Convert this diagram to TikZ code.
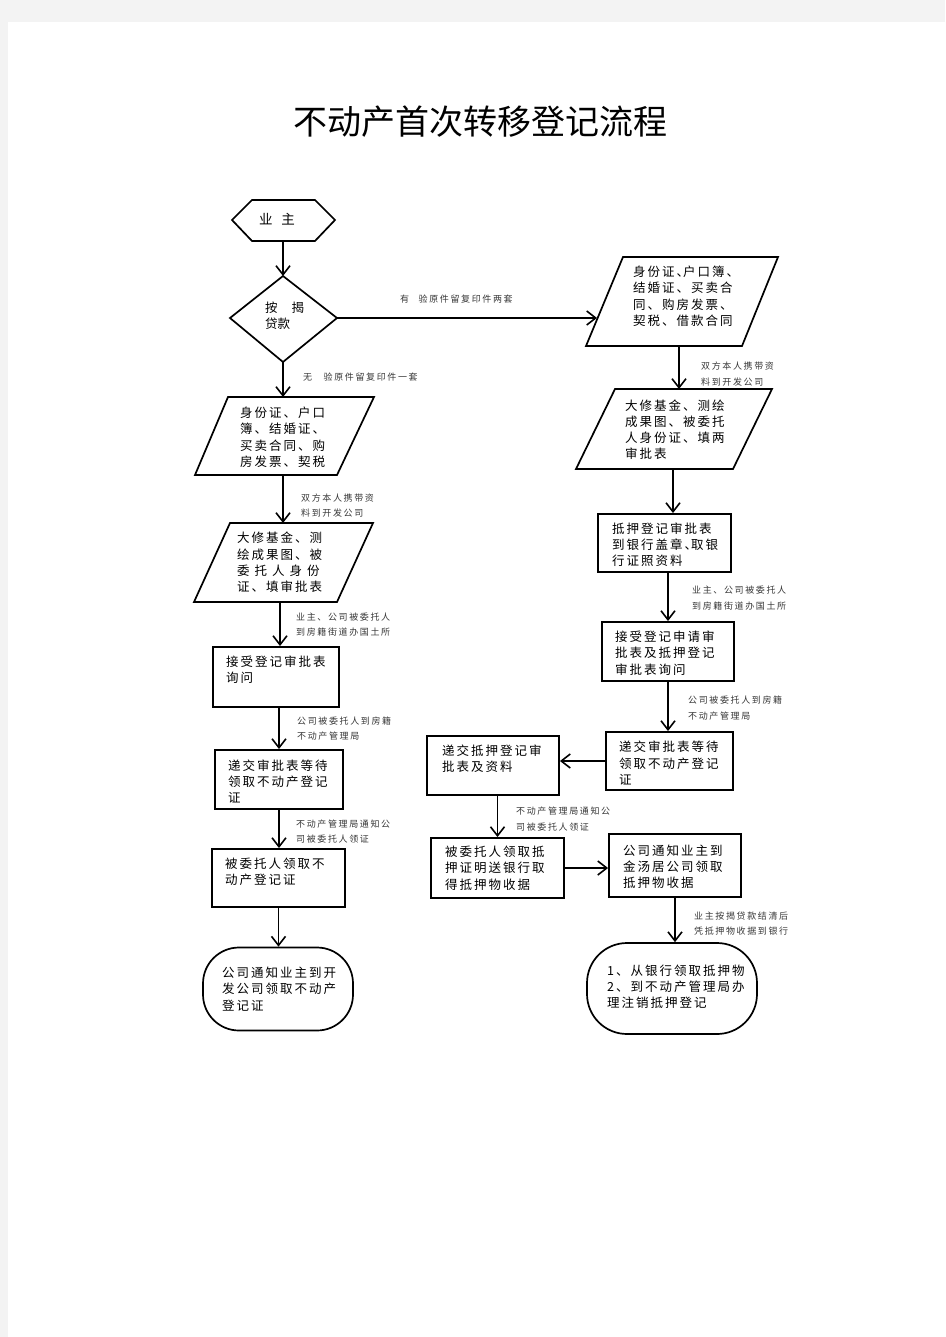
\documentclass[tikz,border=0pt]{standalone}
\usepackage{fontspec}
\setmainfont{Noto Sans CJK SC}
\newfontfamily\bfam[LetterSpace=16]{Noto Sans CJK SC}
\newfontfamily\lfam[LetterSpace=18]{Noto Sans CJK SC}
\usetikzlibrary{arrows.meta}
\definecolor{pagebg}{HTML}{F3F3F3}
\begin{document}
\begin{tikzpicture}[x=1pt,y=-1pt,
  shp/.style={draw,line width=1.7pt,line join=miter},
  box/.style={draw,line width=1.9pt,inner sep=0pt,rectangle},
  arr/.style={line width=1.6pt,-{Straight Barb[length=9pt,width=14pt]}},
  txt/.style={anchor=north west,inner sep=0pt,align=left,font=\bfam\fontsize{12.5}{16.2}\selectfont},
  lbl/.style={anchor=north west,inner sep=0pt,align=left,font=\lfam\fontsize{9}{15.3}\selectfont,text=black!78},
]
\fill[pagebg] (0,0) rectangle (945,1337);
\fill[white] (8,22) rectangle (945,1337);
\useasboundingbox (0,0) rectangle (945,1337);

\node[inner sep=0pt,font=\fontsize{34}{40}\selectfont] (title) at (480,122) {不动产首次转移登记流程};

% ---------- hexagon ----------
\draw[shp] (232,220) -- (252,200) -- (315,200) -- (335,220) -- (315,241) -- (252,241) -- cycle;
\coordinate (Hb) at (283,241);
\node[inner sep=0pt,font=\fontsize{13.5}{16}\selectfont] (Ht) at (277,219) {业\hspace{9pt}主};

% ---------- diamond ----------
\draw[shp] (283,276) -- (337,318) -- (283,362) -- (230,318) -- cycle;
\coordinate (Dt) at (283,276);
\coordinate (Dr) at (337,318);
\coordinate (Db) at (283,362);
\node[anchor=north west,inner sep=0pt,align=left,font=\fontsize{12.5}{16}\selectfont] (Dtx) at (265,302) {按\hspace{14pt}揭\\贷款};

% ---------- left parallelograms ----------
\draw[shp] (228,397) -- (374,397) -- (337,475) -- (195,475) -- cycle;
\coordinate (L1t) at (283,397);
\coordinate (L1b) at (283,475);
\node[txt] (L1x) at (240,407) {身份证、户口\\簿、结婚证、\\买卖合同、购\\房发票、契税};

\draw[shp] (230,523) -- (373,523) -- (337,602) -- (194,602) -- cycle;
\coordinate (L2t) at (283,523);
\coordinate (L2b) at (280,602);
\node[txt] (L2x) at (237,532) {大修基金、测\\绘成果图、被\\委\hspace{5pt}托\hspace{5pt}人\hspace{5pt}身\hspace{5pt}份\\证、填审批表};

% ---------- left boxes ----------
\node[box,minimum width=126pt,minimum height=60pt] (L3) at (276,677) {};
\node[txt] (L3x) at (226,656) {接受登记审批表\\询问};
\node[box,minimum width=128pt,minimum height=59pt] (L4) at (279,779.5) {};
\node[txt] (L4x) at (228,759.5) {递交审批表等待\\领取不动产登记\\证};
\node[box,minimum width=133pt,minimum height=58pt] (L5) at (278.5,878) {};
\node[txt] (L5x) at (225,857.5) {被委托人领取不\\动产登记证};
\node[box,line width=1.7pt,rounded corners=36pt,minimum width=150pt,minimum height=83pt] (L6) at (278,989) {};
\node[txt] (L6x) at (222,967) {公司通知业主到开\\发公司领取不动产\\登记证};

% ---------- right parallelograms ----------
\draw[shp] (623,257) -- (778,257) -- (742,346) -- (586,346) -- cycle;
\coordinate (RP1w) at (597,318);
\coordinate (RP1b) at (679,346);
\node[txt] (RP1x) at (633,266) {身份证、\hspace{-6pt}户口簿、\\结婚证、买卖合\\同、购房发票、\\契税、借款合同};

\draw[shp] (615,389) -- (772,389) -- (733,469) -- (576,469) -- cycle;
\coordinate (RP2t) at (679,389);
\coordinate (RP2b) at (673,469);
\node[txt] (RP2x) at (625,399.5) {大修基金、测绘\\成果图、被委托\\人身份证、填两\\审批表};

% ---------- right boxes ----------
\node[box,minimum width=133pt,minimum height=58pt] (R3) at (664.5,543) {};
\node[txt] (R3x) at (612,522.5) {抵押登记审批表\\到银行盖章、\hspace{-6pt}取银\\行证照资料};
\node[box,minimum width=132pt,minimum height=59pt] (R4) at (668,651.5) {};
\node[txt] (R4x) at (615,631) {接受登记申请审\\批表及抵押登记\\审批表询问};
\node[box,minimum width=127pt,minimum height=58pt] (R5) at (669.5,761) {};
\node[txt] (R5x) at (619,741) {递交审批表等待\\领取不动产登记\\证};
\node[box,minimum width=132pt,minimum height=59pt] (R6) at (493,765.5) {};
\node[txt] (R6x) at (442,744.5) {递交抵押登记审\\批表及资料};
\node[box,minimum width=133pt,minimum height=60pt] (R7) at (497.5,868) {};
\node[txt] (R7x) at (445,846) {被委托人领取抵\\押证明送银行取\\得抵押物收据};
\node[box,minimum width=132pt,minimum height=63pt] (R8) at (675,865.5) {};
\node[txt] (R8x) at (623,844.5) {公司通知业主到\\金汤居公司领取\\抵押物收据};
\node[box,line width=1.7pt,rounded corners=40pt,minimum width=170pt,minimum height=91pt] (R9) at (672,988.5) {};
\node[txt] (R9x) at (607,964.5) {1、从银行领取抵押物\\2、到不动产管理局办\\理注销抵押登记};

% ---------- connectors ----------
\draw[arr] (Hb) -- (Dt);
\draw[arr] (Dr) -- (RP1w);
\draw[arr] (Db) -- (L1t);
\draw[arr] (L1b) -- (L2t);
\draw[arr] (L2b) -- (L2b |- L3.north);
\draw[arr] (L3.south -| L4) -- (L4.north);
\draw[arr] (L4.south) -- (L4.south |- L5.north);
\draw[arr] (L5.south) -- (L5.south |- L6.north);

\draw[arr] (RP1b) -- (RP1b |- RP2t);
\draw[arr] (RP2b) -- (RP2b |- R3.north);
\draw[arr] (R3.south -| R4) -- (R4.north);
\draw[arr] (R4.south) -- (R4.south |- R5.north);
\draw[arr] (R5.west) -- (R5.west -| R6.east);
\draw[arr] (R6.south -| R7) -- (R7.north);
\draw[arr] (R7.east) -- (R7.east -| R8.west);
\draw[arr] (R8.south) -- (R8.south |- R9.north);

% ---------- connector labels ----------
\node[lbl] (lbA) at (400,295) {有\hspace{9.5pt}验原件留复印件两套};
\node[lbl] (lbB) at (303,372.5) {无\hspace{11.5pt}验原件留复印件一套};
\node[lbl] (lbC) at (301,493.5) {双方本人携带资\\料到开发公司};
\node[lbl] (lbD) at (296,612.5) {业主、公司被委托人\\到房籍街道办国土所};
\node[lbl] (lbE) at (297,716.5) {公司被委托人到房籍\\不动产管理局};
\node[lbl] (lbF) at (296,819.5) {不动产管理局通知公\\司被委托人领证};
\node[lbl] (lbG) at (701,362) {双方本人携带资\\料到开发公司};
\node[lbl] (lbH) at (692,586) {业主、公司被委托人\\到房籍街道办国土所};
\node[lbl] (lbI) at (688,696) {公司被委托人到房籍\\不动产管理局};
\node[lbl] (lbJ) at (516,807) {不动产管理局通知公\\司被委托人领证};
\node[lbl] (lbK) at (694,911.5) {业主按揭贷款结清后\\凭抵押物收据到银行};
\end{tikzpicture}
\end{document}
